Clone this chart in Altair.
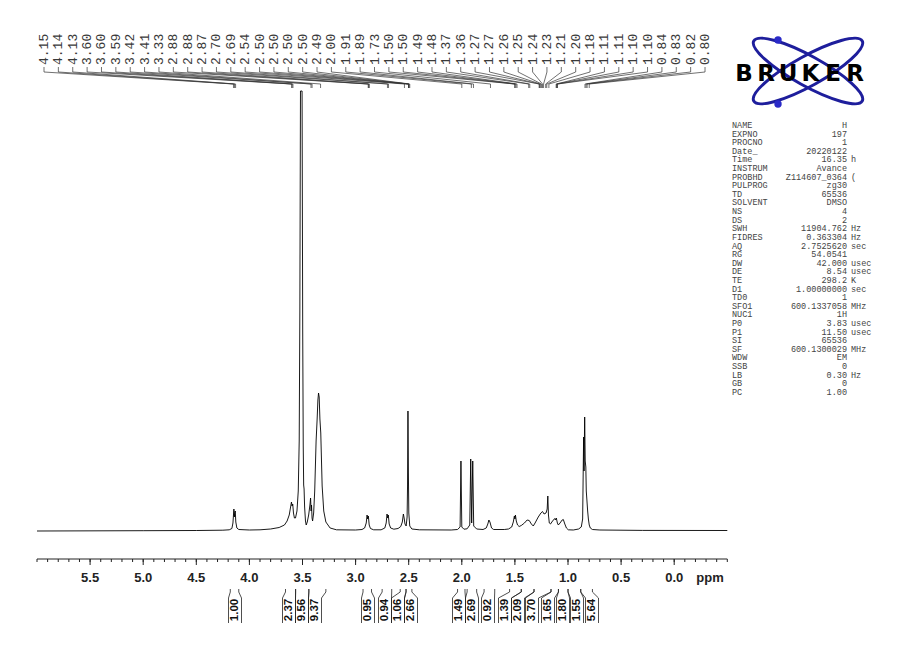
import altair as alt
import pandas as pd

# ---------------- data ----------------
spec_ppm = [6.00, 5.00, 4.50, 4.25, 4.19, 4.165, 4.155, 4.150, 4.146, 4.142, 4.138, 4.133, 4.128, 4.118, 4.10,
            4.00, 3.90, 3.80, 3.72, 3.67, 3.645, 3.625, 3.612, 3.604, 3.598, 3.592, 3.585, 3.576, 3.566, 3.552,
            3.540, 3.531, 3.525, 3.519, 3.504, 3.498, 3.493, 3.489, 3.485, 3.480, 3.472, 3.465, 3.455, 3.442,
            3.430, 3.424, 3.419, 3.415, 3.410, 3.405, 3.395, 3.385, 3.372, 3.362, 3.355, 3.349, 3.343, 3.336,
            3.328, 3.315, 3.300, 3.280, 3.240, 3.180, 3.00, 2.94, 2.915, 2.900, 2.892, 2.886, 2.880, 2.872, 2.860,
            2.83, 2.76, 2.725, 2.712, 2.704, 2.698, 2.692, 2.684, 2.670, 2.64, 2.60, 2.575, 2.560, 2.550,
            2.543, 2.535, 2.524, 2.515, 2.511, 2.507, 2.503, 2.499, 2.490, 2.470, 2.40, 2.10, 2.04, 2.016,
            2.008, 2.000, 1.98, 1.95, 1.925, 1.916, 1.907, 1.897, 1.888, 1.86, 1.80, 1.77, 1.755, 1.745,
            1.735, 1.72, 1.70, 1.60, 1.56, 1.53, 1.515, 1.505, 1.500, 1.495, 1.487, 1.475, 1.46, 1.44, 1.41,
            1.385, 1.365, 1.345, 1.327, 1.31, 1.28, 1.255, 1.24, 1.225, 1.207, 1.196, 1.190, 1.184, 1.176,
            1.165, 1.145, 1.125, 1.118, 1.110, 1.100, 1.091, 1.075, 1.055, 1.044, 1.03, 1.015, 0.997, 0.95,
            0.90, 0.875, 0.862, 0.853, 0.849, 0.843, 0.838, 0.832, 0.828, 0.822, 0.815, 0.808, 0.80, 0.79,
            0.77, 0.70, 0.30, -0.5]
spec_int = [0.0, 0.3, 0.5, 0.8, 1.2, 2.5, 8, 16, 22, 14, 18, 20, 9, 3, 1.5,
            1.0, 1.2, 2.0, 3.5, 6, 10, 16, 24, 29, 25, 27, 18, 13, 13, 20,
            40, 90, 220, 440, 440, 200, 85, 46, 42, 24, 10, 6, 9, 16,
            26, 33, 20, 26, 13, 10, 18, 40, 90, 112, 131, 138, 134, 112,
            98, 45, 20, 9, 3, 1.2, 1.0, 1.5, 3, 8, 16, 12, 15, 6, 2.5,
            1.2, 1.2, 3, 8, 17, 13, 16, 7, 3, 1.8, 2.5, 4.5, 9, 17,
            13, 7, 5, 14, 45, 120, 60, 18, 5, 2, 1.2, 1.0, 1.5, 4,
            70, 4, 1.8, 2.2, 6, 72, 8, 70, 5, 2, 1.5, 3, 7, 11,
            9, 3, 1.5, 1.5, 2, 4, 9, 15, 12, 16, 10, 6, 4.5, 5.5, 8,
            11, 10.5, 7, 5, 8, 14, 18, 19.5, 17, 18, 22, 35, 16, 8,
            7, 10, 12.5, 11, 13, 8, 6, 8, 11, 11.5, 7, 3, 1.2, 1.0,
            2, 4, 12, 94, 60, 114, 70, 64, 40, 31, 20, 12, 6, 3,
            1.5, 1.0, 0.6, 0.5]

peak_labels = ["4.15", "4.14", "4.13", "3.60", "3.60", "3.59", "3.42", "3.41", "3.33", "2.88", "2.88", "2.87",
               "2.70", "2.69", "2.54", "2.50", "2.50", "2.50", "2.50", "2.49", "2.00", "1.91", "1.89", "1.73",
               "1.50", "1.50", "1.49", "1.48", "1.37", "1.36", "1.27", "1.27", "1.26", "1.25", "1.24", "1.23",
               "1.21", "1.20", "1.18", "1.11", "1.11", "1.10", "1.10", "0.84", "0.83", "0.82", "0.80"]

int_values = ["1.00", "2.37", "9.56", "9.37", "0.95", "0.94", "1.06", "2.66", "1.49", "2.69", "0.92",
              "1.39", "2.09", "3.70", "1.65", "1.80", "1.55", "5.64"]
int_from = [4.18, 3.66, 3.565, 3.44, 2.93, 2.75, 2.58, 2.525, 2.04, 1.95, 1.79, 1.55, 1.44, 1.32, 1.16,
            1.09, 1.00, 0.88]
int_to = [4.10, 3.565, 3.44, 3.28, 2.85, 2.66, 2.525, 2.47, 1.97, 1.86, 1.69, 1.44, 1.32, 1.16, 1.09,
          1.00, 0.88, 0.77]

axis_ticks = [round(6.0 - 0.1 * i, 1) + 0.0 for i in range(66)]
axis_labels = ["5.5", "5.0", "4.5", "4.0", "3.5", "3.0", "2.5", "2.0", "1.5", "1.0", "0.5", "0.0"]

param_names = ["NAME", "EXPNO", "PROCNO", "Date_", "Time", "INSTRUM", "PROBHD", "PULPROG", "TD", "SOLVENT",
               "NS", "DS", "SWH", "FIDRES", "AQ", "RG", "DW", "DE", "TE", "D1", "TD0", "SFO1", "NUC1", "P0",
               "P1", "SI", "SF", "WDW", "SSB", "LB", "GB", "PC"]
param_values = ["H", "197", "1", "20220122", "16.35", "Avance", "Z114607_0364", "zg30", "65536", "DMSO",
                "4", "2", "11904.762", "0.363304", "2.7525620", "54.0541", "42.000", "8.54", "298.2",
                "1.00000000", "1", "600.1337058", "1H", "3.83", "11.50", "65536", "600.1300029", "EM", "0",
                "0.30", "0", "1.00"]
param_units = ["", "", "", "", "h", "", "(", "", "", "", "", "", "Hz", "Hz", "sec", "", "usec", "usec", "K",
               "sec", "", "MHz", "", "usec", "usec", "", "MHz", "", "", "Hz", "", ""]

# ---------------- layout (page geometry) ----------------
PPM_PX = 106.2      # pixels per ppm
X6 = 37             # page x of 6.0 ppm
BASE = 531          # page y of the spectrum baseline
AXIS_Y = 559        # page y of the ppm axis line
W, H = 880, 628


def ppm_of(px):
    return 6.0 - (px - X6) / PPM_PX


def h_of(py):
    return BASE - py


xs = alt.Scale(domain=[ppm_of(8 + W), ppm_of(8)], reverse=True, nice=False, zero=False)
ys = alt.Scale(domain=[h_of(8 + H), h_of(8)], nice=False, zero=False)


def X(f):
    return alt.X(f, scale=xs, axis=None)


def Y(f):
    return alt.Y(f, scale=ys, axis=None)


spec_df = pd.DataFrame({"ppm": spec_ppm, "h": spec_int, "i": list(range(len(spec_ppm)))})
spectrum = alt.Chart(spec_df).mark_line(color="black", strokeWidth=0.9).encode(
    x=X("ppm:Q"), y=Y("h:Q"), order="i:Q")

# ppm axis
axis_df = pd.DataFrame({"a": [axis_ticks[0]], "b": [axis_ticks[-1]], "h": [h_of(AXIS_Y)]})
axis_line = alt.Chart(axis_df).mark_rule(color="#222", strokeWidth=1).encode(
    x=X("a:Q"), x2="b:Q", y=Y("h:Q"))
minor_df = pd.DataFrame({"v": axis_ticks, "h1": [h_of(AXIS_Y)] * len(axis_ticks),
                         "h2": [h_of(AXIS_Y + 3)] * len(axis_ticks)})
minor = alt.Chart(minor_df).mark_rule(color="#222", strokeWidth=1).encode(
    x=X("v:Q"), y=Y("h1:Q"), y2="h2:Q")
major_vals = [float(t) for t in axis_labels]
major_df = pd.DataFrame({"v": major_vals, "t": axis_labels,
                         "h1": [h_of(AXIS_Y)] * len(major_vals), "h2": [h_of(AXIS_Y + 6)] * len(major_vals),
                         "ht": [h_of(578)] * len(major_vals)})
major = alt.Chart(major_df).mark_rule(color="#222", strokeWidth=1).encode(
    x=X("v:Q"), y=Y("h1:Q"), y2="h2:Q")
major_text = alt.Chart(major_df).mark_text(font="Liberation Sans", fontWeight="bold", fontSize=13,
                                           color="#222", align="center", baseline="middle").encode(
    x=X("v:Q"), y=Y("ht:Q"), text="t:N")
ppm_df = pd.DataFrame({"x": [ppm_of(710)], "h": [h_of(578)], "t": ["ppm"]})
ppm_text = alt.Chart(ppm_df).mark_text(font="Liberation Sans", fontWeight="bold", fontSize=13,
                                       color="#222", align="center", baseline="middle").encode(
    x=X("x:Q"), y=Y("h:Q"), text="t:N")

# peak labels and connectors
n = len(peak_labels)
lab_x = [ppm_of(44 + i * 14.37) for i in range(n)]
peak_x = [float(t) for t in peak_labels]
lab_df = pd.DataFrame({"t": peak_labels, "x": lab_x, "h": [h_of(65)] * n})
labels = alt.Chart(lab_df).mark_text(angle=270, align="left", baseline="middle", font="Liberation Mono",
                                     fontSize=13, color="#3a3a3a").encode(
    x=X("x:Q"), y=Y("h:Q"), text="t:N")

rows = []
for i in range(n):
    pts = [(lab_x[i], h_of(67)), (lab_x[i], h_of(72)), (peak_x[i], h_of(84)), (peak_x[i], h_of(88))]
    for s, (xx, hh) in enumerate(pts):
        rows.append({"id": i, "s": s, "x": xx, "h": hh})
conn = alt.Chart(pd.DataFrame(rows)).mark_line(color="#333", strokeWidth=0.7).encode(
    x=X("x:Q"), y=Y("h:Q"), detail="id:N", order="s:Q")

# integrals
int_px = [235, 289, 302, 315, 368, 385, 398, 411, 459, 472, 488, 505, 518, 532, 548, 563, 577, 592]
irows = []
for k in range(len(int_values)):
    for side, lim, edge in ((0, int_from[k], int_px[k] - 6.5), (1, int_to[k], int_px[k] + 6.5)):
        pts = [(lim, h_of(589)), (lim, h_of(592)), (ppm_of(edge), h_of(598)), (ppm_of(edge), h_of(623))]
        for s, (xx, hh) in enumerate(pts):
            irows.append({"id": f"{k}-{side}", "s": s, "x": xx, "h": hh})
int_lines = alt.Chart(pd.DataFrame(irows)).mark_line(color="#222", strokeWidth=0.8).encode(
    x=X("x:Q"), y=Y("h:Q"), detail="id:N", order="s:Q")
int_df = pd.DataFrame({"t": int_values, "x": [ppm_of(p) for p in int_px], "h": [h_of(610)] * len(int_px)})
int_text = alt.Chart(int_df).mark_text(angle=270, align="center", baseline="middle", font="Liberation Sans",
                                       fontWeight="bold", fontSize=11.5, color="#111").encode(
    x=X("x:Q"), y=Y("h:Q"), text="t:N")

# parameter table
m = len(param_names)
tbl_df = pd.DataFrame({"name": param_names, "val": param_values, "unit": param_units,
                       "h": [h_of(125 + i * 8.61) for i in range(m)],
                       "xn": [ppm_of(732)] * m, "xv": [ppm_of(847)] * m, "xu": [ppm_of(851)] * m})
tbl_kw = dict(font="Liberation Mono", fontSize=8.5, color="#444", baseline="middle")
t_names = alt.Chart(tbl_df).mark_text(align="left", **tbl_kw).encode(x=X("xn:Q"), y=Y("h:Q"), text="name:N")
t_vals = alt.Chart(tbl_df).mark_text(align="right", **tbl_kw).encode(x=X("xv:Q"), y=Y("h:Q"), text="val:N")
t_units = alt.Chart(tbl_df).mark_text(align="left", **tbl_kw).encode(x=X("xu:Q"), y=Y("h:Q"), text="unit:N")

# logo
one = pd.DataFrame({"k": [0]})
ell_path = "M-1,0A1,0.24,0,1,1,1,0A1,0.24,0,1,1,-1,0Z"
logo = []
for ang in (29, 331):
    logo.append(alt.Chart(one).mark_point(shape=ell_path, filled=False, color="#1e1e9c", strokeWidth=3,
                                          size=15376, angle=ang, opacity=1).encode(
        x=alt.value(808 - 8), y=alt.value(71 - 8)))
for (px, py) in ((778, 40), (778, 104)):
    logo.append(alt.Chart(one).mark_point(shape="circle", filled=True, color="#2a2ac8", size=55,
                                          opacity=1).encode(x=alt.value(px - 8), y=alt.value(py - 8)))
for ch, px in zip("BRUKER", [744, 766, 788, 810.5, 833, 855]):
    logo.append(alt.Chart(one).mark_text(text=ch, font="DejaVu Sans", fontWeight="bold", fontSize=23,
                                         color="black", align="center", baseline="alphabetic").encode(
        x=alt.value(px - 8), y=alt.value(81 - 8)))

chart = alt.layer(spectrum, axis_line, minor, major, major_text, ppm_text, conn, labels, int_lines, int_text,
                  t_names, t_vals, t_units, *logo).properties(
    width=W, height=H, autosize=alt.AutoSizeParams(type="none"), padding=0
).configure_view(stroke=None)

chart.save("out.html", embed_options={"renderer": "svg", "actions": False})
